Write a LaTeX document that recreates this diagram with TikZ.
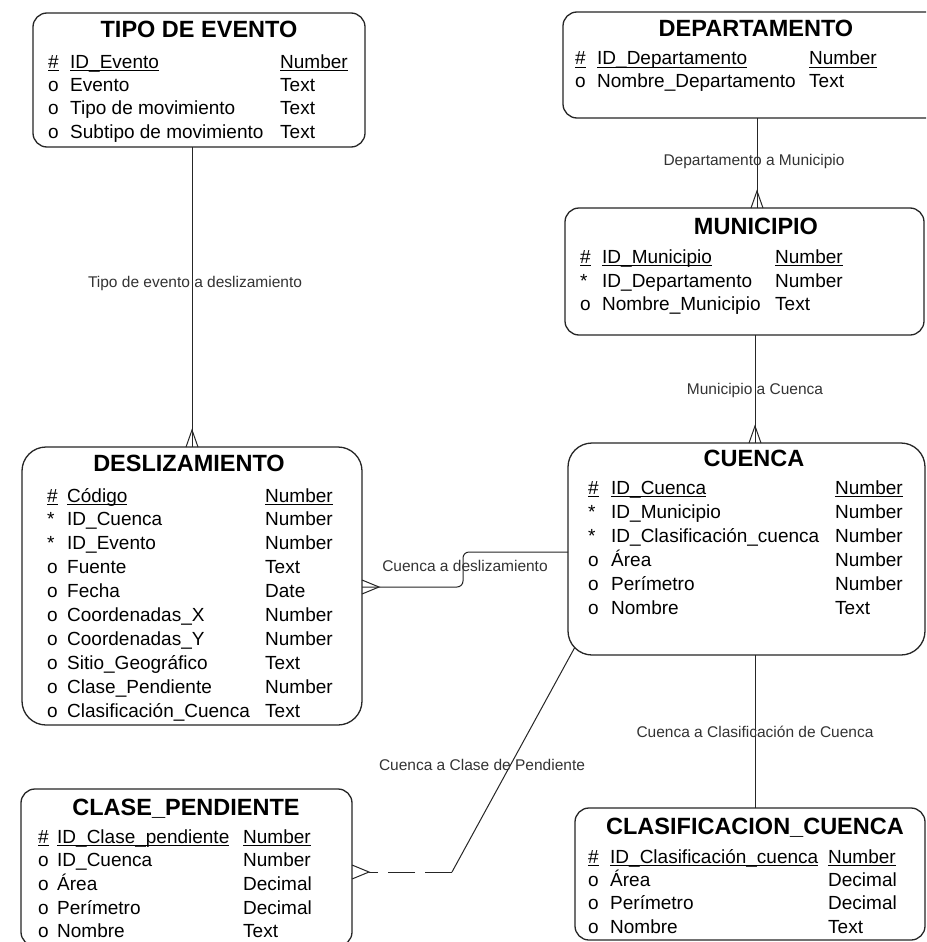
\documentclass[tikz,border=0pt]{standalone}
\usepackage{fontspec}
\setmainfont{Liberation Sans}
\usetikzlibrary{calc}

% underline used for the primary-key row of each entity
\newcommand{\erul}[1]{\leavevmode\setbox0\hbox{#1}\rlap{\rule[-3.4pt]{\wd0}{1.1pt}}\box0}

% one attribute row: id, x of marker, x of name, x of type, baseline y, marker, name, type
\newcommand{\attr}[8]{%
  \node[attr] (#1-s) at (#2,#5) {#6};
  \node[attr] (#1-n) at (#3,#5) {#7};
  \node[attr] (#1-t) at (#4,#5) {#8};}

% crow's foot on the top edge of an entity / on the right edge of an entity
\newcommand{\crowtop}[1]{\draw[conn] ($(#1)+(-6,0)$) -- ($(#1)+(0,-17)$) -- ($(#1)+(6,0)$);}
\newcommand{\crowright}[1]{\draw[conn] ($(#1)+(0,-7)$) -- ($(#1)+(17,0)$) -- ($(#1)+(0,7)$);}

\tikzset{
  entity/.style={draw=black!85, line width=1.3pt, rounded corners=14pt, inner sep=0pt, outer sep=0pt},
  bigentity/.style={entity, rounded corners=24pt},
  etitle/.style={font=\fontsize{23.5}{27}\selectfont\bfseries, anchor=base, inner sep=0pt},
  attr/.style={font=\fontsize{19}{22}\selectfont, anchor=base west, inner sep=0pt},
  conn/.style={draw=black!85, line width=1pt},
  rlabel/.style={font=\fontsize{15.5}{18}\selectfont, text=black!80, anchor=base, inner sep=0pt},
}

\begin{document}
\begin{tikzpicture}[x=1pt, y=-1pt]
\useasboundingbox (0,0) rectangle (926,942);
\fill[white] (0,0) rectangle (926,942);
\clip (0,0) rectangle (926,942);

% ---------- entity boxes ----------
\node[entity, minimum width=332pt, minimum height=134pt] (tipo)   at (199,80) {};
\node[entity, minimum width=392pt, minimum height=106pt] (depto)  at (759,65) {};
\node[entity, minimum width=359pt, minimum height=127pt] (muni)   at (744.5,271.5) {};
\node[bigentity, minimum width=357pt, minimum height=212pt] (cuenca) at (746.5,549) {};
\node[bigentity, minimum width=340pt, minimum height=278pt] (desl) at (192,586) {};
\node[entity, minimum width=331pt, minimum height=157pt] (clase)  at (186.5,867.5) {};
\node[entity, minimum width=350pt, minimum height=132pt] (clasif) at (750,874) {};

% ---------- TIPO DE EVENTO ----------
\node[etitle] (tipo-title) at (199,38) {TIPO DE EVENTO};
\attr{te1}{48}{70}{280}{68}{\erul{\#}}{\erul{ID\_Evento}}{\erul{Number}}
\attr{te2}{48}{70}{280}{91.3}{o}{Evento}{Text}
\attr{te3}{48}{70}{280}{114.6}{o}{Tipo de movimiento}{Text}
\attr{te4}{48}{70}{280}{138}{o}{Subtipo de movimiento}{Text}

% ---------- DEPARTAMENTO ----------
\node[etitle] (depto-title) at (756,37) {DEPARTAMENTO};
\attr{dp1}{575}{597}{809}{65}{\erul{\#}}{\erul{ID\_Departamento}}{\erul{Number}}
\attr{dp2}{575}{597}{809}{88}{o}{Nombre\_Departamento}{Text}

% ---------- MUNICIPIO ----------
\node[etitle] (muni-title) at (756,234) {MUNICIPIO};
\attr{mu1}{580}{602}{775}{263}{\erul{\#}}{\erul{ID\_Municipio}}{\erul{Number}}
\attr{mu2}{580}{602}{775}{287}{*}{ID\_Departamento}{Number}
\attr{mu3}{580}{602}{775}{310}{o}{Nombre\_Municipio}{Text}

% ---------- CUENCA ----------
\node[etitle] (cuenca-title) at (754,466) {CUENCA};
\attr{cu1}{588}{611}{835}{494}{\erul{\#}}{\erul{ID\_Cuenca}}{\erul{Number}}
\attr{cu2}{588}{611}{835}{518}{*}{ID\_Municipio}{Number}
\attr{cu3}{588}{611}{835}{542}{*}{ID\_Clasificación\_cuenca}{Number}
\attr{cu4}{588}{611}{835}{566}{o}{Área}{Number}
\attr{cu5}{588}{611}{835}{590}{o}{Perímetro}{Number}
\attr{cu6}{588}{611}{835}{614}{o}{Nombre}{Text}

% ---------- DESLIZAMIENTO ----------
\node[etitle] (desl-title) at (189,471) {DESLIZAMIENTO};
\attr{de1}{47}{67}{265}{502}{\erul{\#}}{\erul{Código}}{\erul{Number}}
\attr{de2}{47}{67}{265}{525.9}{*}{ID\_Cuenca}{Number}
\attr{de3}{47}{67}{265}{549.8}{*}{ID\_Evento}{Number}
\attr{de4}{47}{67}{265}{573.7}{o}{Fuente}{Text}
\attr{de5}{47}{67}{265}{597.6}{o}{Fecha}{Date}
\attr{de6}{47}{67}{265}{621.5}{o}{Coordenadas\_X}{Number}
\attr{de7}{47}{67}{265}{645.4}{o}{Coordenadas\_Y}{Number}
\attr{de8}{47}{67}{265}{669.3}{o}{Sitio\_Geográfico}{Text}
\attr{de9}{47}{67}{265}{693.2}{o}{Clase\_Pendiente}{Number}
\attr{de10}{47}{67}{265}{717.1}{o}{Clasificación\_Cuenca}{Text}

% ---------- CLASE_PENDIENTE ----------
\node[etitle] (clase-title) at (186,815) {CLASE\_PENDIENTE};
\attr{cp1}{38}{57}{243}{843}{\erul{\#}}{\erul{ID\_Clase\_pendiente}}{\erul{Number}}
\attr{cp2}{38}{57}{243}{866.7}{o}{ID\_Cuenca}{Number}
\attr{cp3}{38}{57}{243}{890.4}{o}{Área}{Decimal}
\attr{cp4}{38}{57}{243}{914.1}{o}{Perímetro}{Decimal}
\attr{cp5}{38}{57}{243}{937.8}{o}{Nombre}{Text}

% ---------- CLASIFICACION_CUENCA ----------
\node[etitle] (clasif-title) at (755,834) {CLASIFICACION\_CUENCA};
\attr{cc1}{588}{610}{828}{863}{\erul{\#}}{\erul{ID\_Clasificación\_cuenca}}{\erul{Number}}
\attr{cc2}{588}{610}{828}{886.4}{o}{Área}{Decimal}
\attr{cc3}{588}{610}{828}{909.8}{o}{Perímetro}{Decimal}
\attr{cc4}{588}{610}{828}{933.2}{o}{Nombre}{Text}

% ---------- relationships ----------
\coordinate (xdm) at (757,0);
\coordinate (xmc) at (755,0);
\coordinate (xcc) at (755,0);
\coordinate (ydc) at (0,552);
\coordinate (ydd) at (0,587);
\coordinate (ycp) at (0,872);
\coordinate (bend) at (463,0);
\coordinate (knee) at (452,872);
\coordinate (cornerCU) at ($(cuenca.south west)+(7,-8)$);

% TIPO DE EVENTO -> DESLIZAMIENTO
\draw[conn] (desl.north |- tipo.south) -- (desl.north);
\crowtop{desl.north}

% DEPARTAMENTO -> MUNICIPIO
\draw[conn] (depto.south -| xdm) -- (muni.north -| xdm);
\crowtop{muni.north -| xdm}

% MUNICIPIO -> CUENCA
\draw[conn] (muni.south -| xmc) -- (cuenca.north -| xmc);
\crowtop{cuenca.north -| xmc}

% CUENCA -> CLASIFICACION_CUENCA
\draw[conn] (cuenca.south -| xcc) -- (clasif.north -| xcc);

% CUENCA -> DESLIZAMIENTO
\draw[conn, rounded corners=6pt] (cuenca.west |- ydc) -| (bend |- ydd) -- (desl.east |- ydd);
\crowright{desl.east |- ydd}

% CUENCA -> CLASE_PENDIENTE (optional end dashed)
\draw[conn] (cornerCU) -- (knee);
\draw[conn, dash pattern=on 27pt off 10pt] (knee) -- ($(clase.east |- ycp)+(17,0)$);
\crowright{clase.east |- ycp}

% ---------- relationship names ----------
\node[rlabel] (lab-te) at (195,287) {Tipo de evento a deslizamiento};
\node[rlabel] (lab-dm) at (754,165) {Departamento a Municipio};
\node[rlabel] (lab-mc) at (755,394) {Municipio a Cuenca};
\node[rlabel] (lab-cd) at (465,571) {Cuenca a deslizamiento};
\node[rlabel] (lab-cp) at (482,770) {Cuenca a Clase de Pendiente};
\node[rlabel] (lab-cc) at (755,737) {Cuenca a Clasificación de Cuenca};
\end{tikzpicture}
\end{document}
